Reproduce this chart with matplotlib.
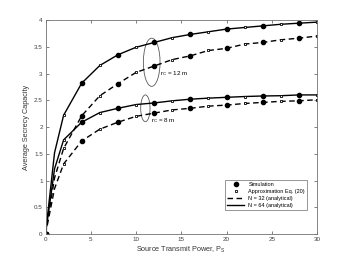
import numpy as np
import matplotlib
matplotlib.use("Agg")
import matplotlib.pyplot as plt
from matplotlib.patches import Ellipse
from matplotlib.lines import Line2D

plt.rcParams["font.family"] = ["Liberation Sans", "DejaVu Sans"]
plt.rcParams["mathtext.fontset"] = "custom"
plt.rcParams["mathtext.rm"] = "Liberation Sans"

# source transmit power samples
p_s = [0, 1, 2, 4, 6, 8, 10, 12, 14, 16, 18, 20, 22, 24, 26, 28, 30]

# average secrecy capacity
cap_rc12_n64 = [0, 1.52, 2.22, 2.82, 3.15, 3.35, 3.49, 3.58, 3.67, 3.73, 3.78, 3.83, 3.86, 3.89, 3.92, 3.94, 3.96]
cap_rc12_n32 = [0, 1.05, 1.60, 2.21, 2.585, 2.81, 3.02, 3.14, 3.26, 3.33, 3.43, 3.47, 3.55, 3.58, 3.63, 3.66, 3.70]
cap_rc8_n64 = [0, 1.22, 1.76, 2.09, 2.27, 2.35, 2.42, 2.45, 2.49, 2.52, 2.54, 2.555, 2.57, 2.58, 2.585, 2.60, 2.60]
cap_rc8_n32 = [0, 0.85, 1.31, 1.74, 1.96, 2.09, 2.20, 2.26, 2.32, 2.35, 2.39, 2.41, 2.44, 2.46, 2.48, 2.49, 2.51]

sim_points = [0, 4, 8, 12, 16, 20, 24, 28]
approx_points = [2, 6, 10, 14, 18, 22, 26, 30]

legend_labels = ["Simulation", "Approximation Eq. (20)",
                 "N = 32 (analytical)", "N = 64 (analytical)"]

x = np.array(p_s)
sim_mask = np.isin(x, sim_points)
apx_mask = np.isin(x, approx_points)

fig = plt.figure(figsize=(3.5, 2.63), dpi=100)
ax = fig.add_axes([0.13, 0.11, 0.776, 0.814])

dash = (0, (4, 2.5))
curves = [(cap_rc12_n64, "-"), (cap_rc12_n32, dash),
          (cap_rc8_n64, "-"), (cap_rc8_n32, dash)]
for vals, ls in curves:
    y = np.array(vals)
    ax.plot(x, y, color="k", lw=1.0, ls=ls)
    ax.plot(x[sim_mask], y[sim_mask], "o", color="k", ms=3.0, ls="none")
    ax.plot(x[apx_mask], y[apx_mask], "s", mfc="white", mec="k", mew=0.6,
            ms=2.0, ls="none")

# grouping ellipses and labels
ax.add_patch(Ellipse((11.73, 3.21), 1.84, 0.9, fill=False, ec="0.35", lw=0.6))
ax.add_patch(Ellipse((11.03, 2.35), 1.03, 0.5, fill=False, ec="0.35", lw=0.6))
ax.text(12.6, 3.0, r"r$_{\mathrm{C}}$ = 12 m", fontsize=4.5, va="center", ha="left")
ax.text(11.6, 2.12, r"r$_{\mathrm{C}}$ = 8 m", fontsize=4.5, va="center", ha="left")

ax.set_xlim(0, 30)
ax.set_ylim(0, 4)
ax.set_xticks(range(0, 31, 5))
ax.set_yticks(np.arange(0, 4.01, 0.5))
ax.set_yticklabels(["0", "0.5", "1", "1.5", "2", "2.5", "3", "3.5", "4"])
ax.tick_params(direction="in", length=2.5, width=0.5, labelsize=4.5,
               top=True, right=True, pad=2, colors="0.3", labelcolor="0.25")
for sp in ax.spines.values():
    sp.set_linewidth(0.6)
    sp.set_color("0.45")

ax.set_xlabel(r"Source Transmit Power, P$_{\mathrm{S}}$", fontsize=5.2, labelpad=2, color="0.2")
ax.set_ylabel("Average Secrecy Capacity", fontsize=5.2, labelpad=3, color="0.2")

handles = [
    Line2D([], [], color="k", marker="o", ls="none", ms=3.0),
    Line2D([], [], color="k", marker="s", mfc="white", mew=0.6, ls="none", ms=2.0),
    Line2D([], [], color="k", lw=1.0, ls=dash),
    Line2D([], [], color="k", lw=1.0, ls="-"),
]
leg = ax.legend(handles, legend_labels, loc="lower right",
                bbox_to_anchor=(0.964, 0.112), fontsize=4, frameon=True,
                fancybox=False, edgecolor="0.4", borderaxespad=0,
                handlelength=3.0, labelspacing=0.35, borderpad=0.4,
                handletextpad=0.8)
leg.get_frame().set_linewidth(0.6)

fig.savefig("out.png", dpi=100)
